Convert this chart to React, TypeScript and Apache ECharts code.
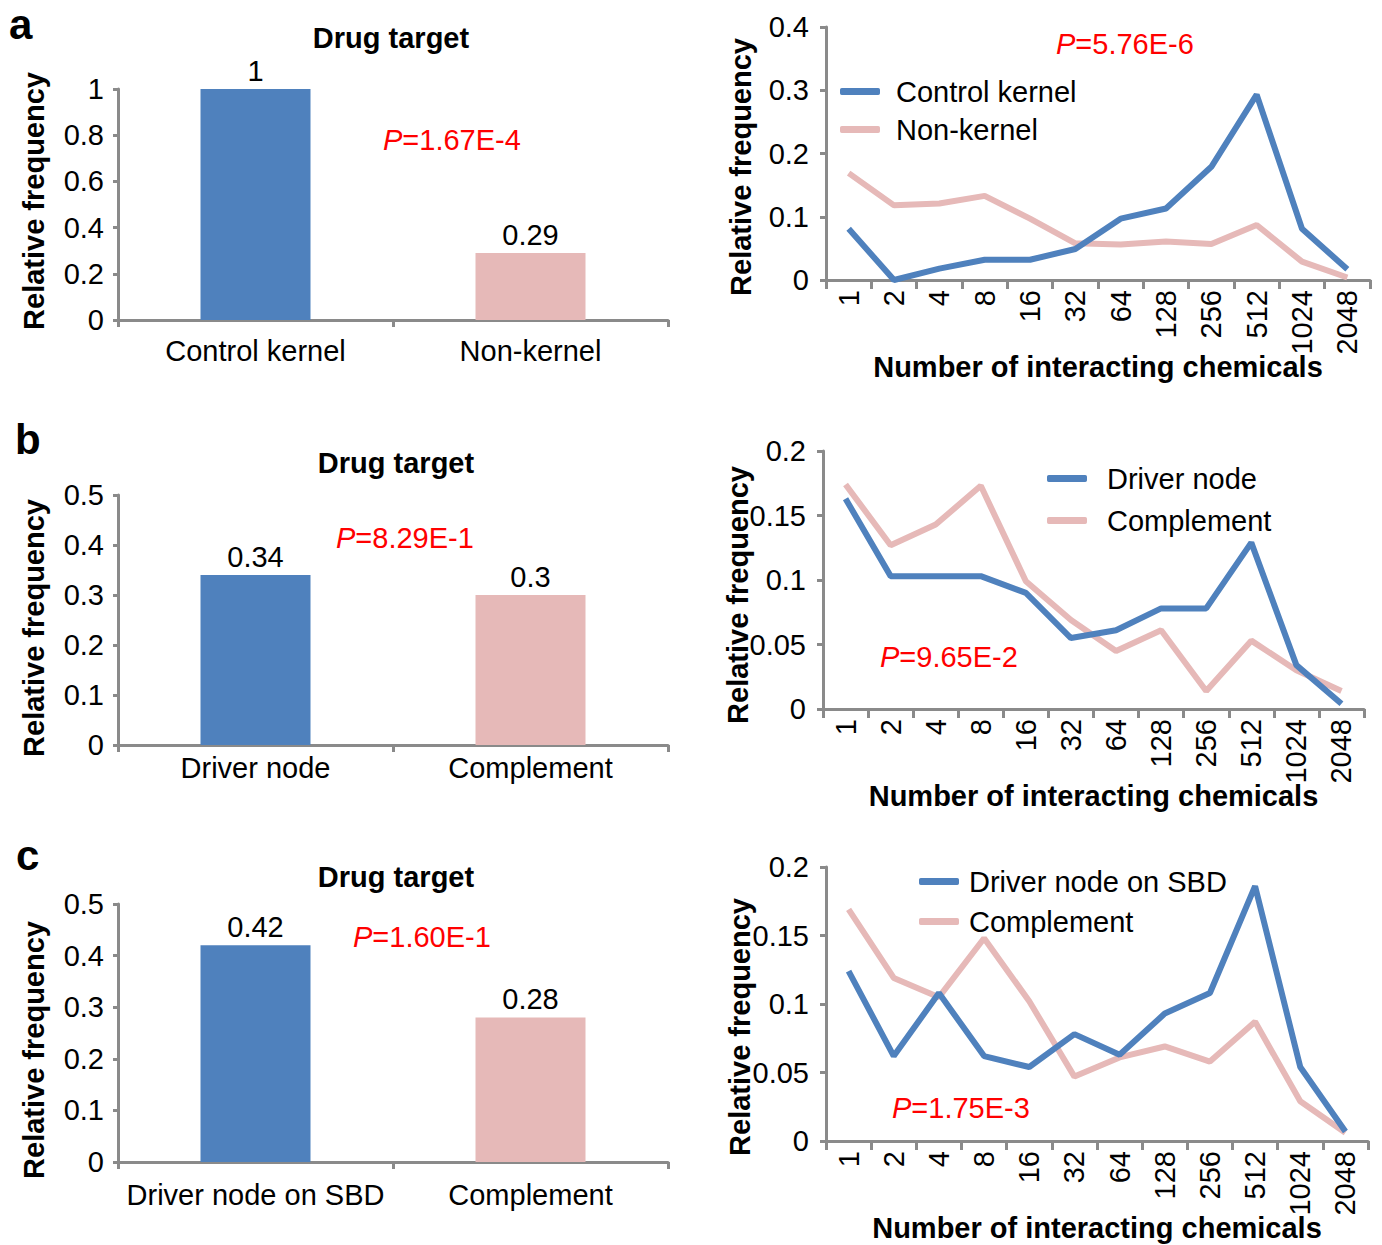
import React, { useEffect, useRef } from "react";
import * as echarts from "echarts";

// ---------- data ----------
const categoriesA = ["Control kernel", "Non-kernel"];
const barValuesA = [1, 0.29];
const categoriesB = ["Driver node", "Complement"];
const barValuesB = [0.34, 0.3];
const categoriesC = ["Driver node on SBD", "Complement"];
const barValuesC = [0.42, 0.28];

const chemicalBins = ["1", "2", "4", "8", "16", "32", "64", "128", "256", "512", "1024", "2048"];

const controlKernel = [0.081, 0.0, 0.018, 0.032, 0.032, 0.049, 0.097, 0.113, 0.179, 0.293, 0.081, 0.017];
const nonKernel = [0.169, 0.118, 0.121, 0.133, 0.097, 0.058, 0.056, 0.061, 0.057, 0.087, 0.029, 0.004];

const driverNode = [0.163, 0.103, 0.103, 0.103, 0.09, 0.055, 0.061, 0.078, 0.078, 0.129, 0.034, 0.004];
const complementB = [0.174, 0.127, 0.143, 0.173, 0.099, 0.069, 0.045, 0.061, 0.014, 0.053, 0.03, 0.014];

const driverNodeSBD = [0.124, 0.062, 0.108, 0.062, 0.054, 0.078, 0.063, 0.093, 0.108, 0.186, 0.054, 0.007];
const complementC = [0.169, 0.119, 0.105, 0.148, 0.102, 0.047, 0.061, 0.069, 0.058, 0.087, 0.029, 0.006];

const pValueLabels = ["1.67E-4", "5.76E-6", "8.29E-1", "9.65E-2", "1.60E-1", "1.75E-3"];
const panelLetters = ["a", "b", "c"];

// ---------- style ----------
const FONT = "'Liberation Sans', Arial, Helvetica, sans-serif";
const AXIS_GRAY = "#8a8a8a";
const BLUE = "#4f81bd";
const PINK = "#e6b9b8";
const FS = 29;

export default function App() {
  const ref = useRef<HTMLDivElement>(null);

  useEffect(() => {
    if (!ref.current) return;
    const chart = echarts.init(ref.current, undefined, { renderer: "svg" });

    const axisLineStyle = { color: AXIS_GRAY, width: 3 };

    const barPanels = [
      { cats: categoriesA, vals: barValuesA, max: 1, interval: 0.2, grid: { left: 118, top: 89, width: 550, height: 231 }, margin: 16 },
      { cats: categoriesB, vals: barValuesB, max: 0.5, interval: 0.1, grid: { left: 118, top: 495, width: 550, height: 250 }, margin: 8 },
      { cats: categoriesC, vals: barValuesC, max: 0.5, interval: 0.1, grid: { left: 118, top: 904, width: 550, height: 258 }, margin: 18 },
    ];

    const linePanels = [
      { max: 0.4, interval: 0.1, grid: { left: 826, top: 27, width: 544, height: 253 },
        series: [ { name: "Non-kernel", data: nonKernel, color: PINK }, { name: "Control kernel", data: controlKernel, color: BLUE } ],
        legend: { left: 840, top: 77, itemGap: 9, pad: 11, data: ["Control kernel", "Non-kernel"] } },
      { max: 0.2, interval: 0.05, grid: { left: 823, top: 451, width: 541, height: 258 },
        series: [ { name: "Complement", data: complementB, color: PINK }, { name: "Driver node", data: driverNode, color: BLUE } ],
        legend: { left: 1047, top: 464, itemGap: 13, pad: 15, data: ["Driver node", "Complement"] } },
      { max: 0.2, interval: 0.05, grid: { left: 826, top: 867, width: 542, height: 274 },
        series: [ { name: "Complement", data: complementC, color: PINK }, { name: "Driver node on SBD", data: driverNodeSBD, color: BLUE } ],
        legend: { left: 919, top: 867, itemGap: 11, pad: 5, data: ["Driver node on SBD", "Complement"] } },
    ];

    const grids: any[] = [];
    const xAxes: any[] = [];
    const yAxes: any[] = [];
    const series: any[] = [];
    const legends: any[] = [];

    barPanels.forEach((p) => {
      const gi = grids.length;
      grids.push({ ...p.grid, containLabel: false });
      xAxes.push({
        type: "category", gridIndex: gi, data: p.cats,
        axisLine: { lineStyle: axisLineStyle },
        axisTick: { show: true, length: 7, lineStyle: axisLineStyle },
        axisLabel: { fontSize: FS, color: "#000", fontFamily: FONT, margin: p.margin, interval: 0 },
      });
      yAxes.push({
        type: "value", gridIndex: gi, min: 0, max: p.max, interval: p.interval,
        axisLine: { show: true, lineStyle: axisLineStyle },
        axisTick: { show: true, length: 5, lineStyle: axisLineStyle },
        splitLine: { show: false },
        axisLabel: { fontSize: FS, color: "#000", fontFamily: FONT, margin: 14 },
      });
      series.push({
        type: "bar", xAxisIndex: gi, yAxisIndex: gi, barWidth: 110,
        data: p.vals.map((v, j) => ({ value: v, itemStyle: { color: j === 0 ? BLUE : PINK } })),
        label: { show: true, position: "top", distance: 4, fontSize: FS, color: "#000", fontFamily: FONT },
      });
    });

    linePanels.forEach((p) => {
      const gi = grids.length;
      grids.push({ ...p.grid, containLabel: false });
      xAxes.push({
        type: "category", gridIndex: gi, data: chemicalBins, boundaryGap: true,
        axisLine: { lineStyle: axisLineStyle },
        axisTick: { show: true, length: 9, interval: 0, lineStyle: axisLineStyle },
        axisLabel: { fontSize: FS, color: "#000", fontFamily: FONT, rotate: 90, margin: 10, interval: 0 },
        name: "Number of interacting chemicals", nameLocation: "middle", nameGap: 72,
        nameMoveOverlap: false,
        nameTextStyle: { fontSize: FS, fontWeight: "bold", color: "#000", fontFamily: FONT },
      });
      yAxes.push({
        type: "value", gridIndex: gi, min: 0, max: p.max, interval: p.interval,
        axisLine: { show: true, lineStyle: axisLineStyle },
        axisTick: { show: true, length: 6, lineStyle: axisLineStyle },
        splitLine: { show: false },
        axisLabel: { fontSize: FS, color: "#000", fontFamily: FONT, margin: 17 },
      });
      p.series.forEach((s) => {
        series.push({
          type: "line", name: s.name, xAxisIndex: gi, yAxisIndex: gi, data: s.data,
          symbol: "none", showSymbol: false,
          lineStyle: { width: 6, color: s.color }, itemStyle: { color: s.color },
        });
      });
      legends.push({
        data: p.legend.data, orient: "vertical", left: p.legend.left, top: p.legend.top,
        padding: 0,
        itemGap: p.legend.itemGap, itemWidth: 40, itemHeight: 7, icon: "roundRect",
        selectedMode: false,
        textStyle: { fontSize: FS, color: "#000", fontFamily: FONT, padding: [0, 0, 0, p.legend.pad] },
      });
    });

    const pText = (label: string, x: number, y: number) => ({
      type: "text", x, y,
      style: {
        text: "{p|P}{v|=" + label + "}",
        verticalAlign: "middle", align: "left",
        rich: {
          p: { fontStyle: "italic", fill: "#ff0000", fontSize: FS, fontFamily: FONT },
          v: { fill: "#ff0000", fontSize: FS, fontFamily: FONT },
        },
      },
    });
    const pPos = [[383, 140], [1056, 44], [336, 538], [880, 657], [353, 937], [892, 1108]];

    const yTitle = (x: number, y: number) => ({
      type: "text", x, y, rotation: Math.PI / 2,
      style: { text: "Relative frequency", fontSize: FS, fontWeight: "bold", fontFamily: FONT, fill: "#000", align: "center", verticalAlign: "middle" },
    });
    const yTitlePos = [[34, 201], [741, 167], [34, 628], [738, 595], [34, 1050], [740, 1027]];

    const title = (x: number, y: number) => ({
      type: "text", x, y,
      style: { text: "Drug target", fontSize: FS, fontWeight: "bold", fontFamily: FONT, fill: "#000", align: "center", verticalAlign: "middle" },
    });
    const titlePos = [[391, 38], [396, 463], [396, 877]];

    const letter = (t: string, x: number, y: number) => ({
      type: "text", x, y,
      style: { text: t, fontSize: 42, fontWeight: "bold", fontFamily: FONT, fill: "#000", align: "left", verticalAlign: "middle" },
    });
    const letterPos = [[9, 24], [15, 439], [16, 855]];

    const graphics: any[] = [
      ...pValueLabels.map((l, i) => pText(l, pPos[i][0], pPos[i][1])),
      ...yTitlePos.map((p) => yTitle(p[0], p[1])),
      ...titlePos.map((p) => title(p[0], p[1])),
      ...panelLetters.map((t, i) => letter(t, letterPos[i][0], letterPos[i][1])),
    ];

    chart.setOption({
      animation: false,
      backgroundColor: "#ffffff",
      textStyle: { fontFamily: FONT },
      grid: grids,
      xAxis: xAxes,
      yAxis: yAxes,
      series,
      legend: legends,
      graphic: graphics,
    });

    return () => chart.dispose();
  }, []);

  return (
    <div
      ref={ref}
      style={{ position: "absolute", left: 0, top: 0, width: 1382, height: 1245, background: "#fff" }}
    />
  );
}
